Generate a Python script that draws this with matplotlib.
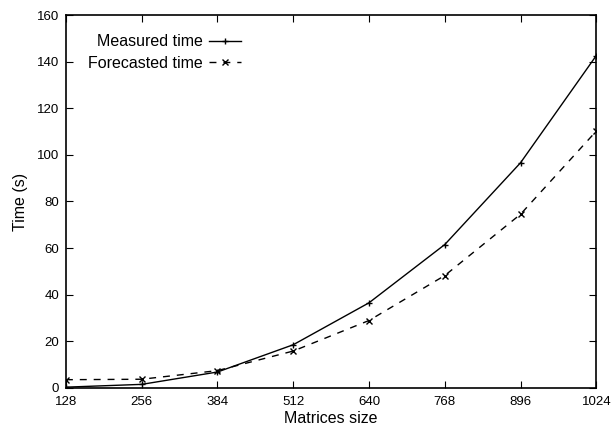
import matplotlib
matplotlib.use("Agg")
import matplotlib.pyplot as plt

# === DATA ===
sizes = [128, 256, 384, 512, 640, 768, 896, 1024]
measured = [0.3, 1.5, 6.8, 18.5, 36.5, 61.5, 96.6, 142.6]
forecasted = [3.5, 3.7, 7.4, 15.8, 28.9, 48.2, 74.5, 110.2]

plt.rcParams["font.family"] = ["Liberation Sans", "DejaVu Sans"]

fig = plt.figure(figsize=(6.16, 4.30), dpi=100)
ax = fig.add_axes([0.107, 0.098, 0.861, 0.867])

ax.plot(sizes, measured, color="black", lw=1, marker="+", ms=5, mew=1,
        label="Measured time")
ax.plot(sizes, forecasted, color="black", lw=1, ls=(0, (5, 5)), marker="x",
        ms=4, mew=1, label="Forecasted time")

ax.set_xlim(128, 1024)
ax.set_ylim(0, 160)
ax.set_xticks(sizes)
ax.set_yticks(range(0, 161, 20))
ax.tick_params(direction="in", top=True, right=True, length=5, width=0.8,
               labelsize=9.5)
ax.tick_params(axis="x", pad=6)
ax.tick_params(axis="y", pad=5)
for s in ax.spines.values():
    s.set_linewidth(1.2)

ax.set_xlabel("Matrices size", fontsize=11.5, labelpad=2)
ax.set_ylabel("Time (s)", fontsize=11.5, labelpad=6)

ax.legend(loc="upper left", frameon=False, markerfirst=False, fontsize=11.5,
          handlelength=2.0, handletextpad=0.4, borderaxespad=0.0,
          bbox_to_anchor=(0.03, 0.965), labelspacing=0.4)

plt.savefig("out.png", dpi=100)
